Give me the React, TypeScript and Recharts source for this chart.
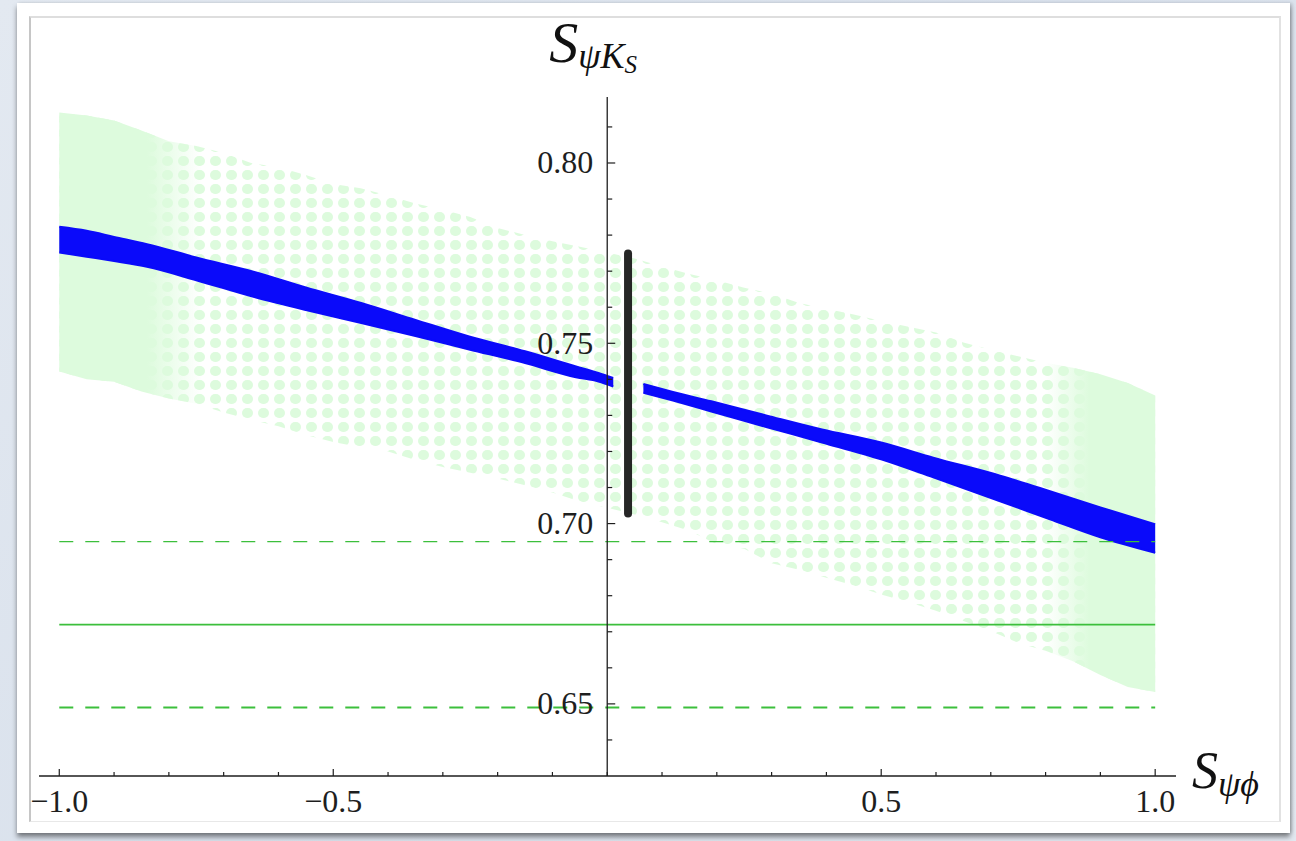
import React from 'react';
import { ComposedChart, Area, Line, XAxis, YAxis, ReferenceLine, ReferenceDot } from 'recharts';

// Light-green scan region (S_psiKS range allowed for each S_psiphi)
const greenX = [-1, -0.95, -0.9, -0.85, -0.8, -0.75, -0.7, -0.65, -0.6, -0.55, -0.5, -0.45, -0.4, -0.35, -0.3, -0.25, -0.2, -0.15, -0.1, -0.05, 0, 0.05, 0.1, 0.15, 0.2, 0.25, 0.3, 0.35, 0.4, 0.45, 0.5, 0.55, 0.6, 0.65, 0.7, 0.75, 0.8, 0.85, 0.9, 0.95, 1];
const greenUpper = [0.814, 0.8132, 0.8118, 0.809, 0.806, 0.8047, 0.8028, 0.8, 0.7988, 0.7967, 0.7942, 0.793, 0.791, 0.7888, 0.787, 0.785, 0.782, 0.78, 0.7783, 0.7768, 0.7752, 0.7735, 0.7713, 0.7692, 0.7675, 0.7654, 0.7638, 0.7612, 0.7596, 0.758, 0.7562, 0.7546, 0.753, 0.7502, 0.7482, 0.7464, 0.7446, 0.7432, 0.7414, 0.739, 0.7355];
const greenLower = [0.7422, 0.74, 0.7393, 0.7366, 0.7347, 0.7332, 0.7308, 0.7288, 0.727, 0.7246, 0.7226, 0.7212, 0.72, 0.7176, 0.7157, 0.7141, 0.7125, 0.7106, 0.7086, 0.7061, 0.7044, 0.7025, 0.7004, 0.698, 0.6943, 0.693, 0.689, 0.6872, 0.685, 0.6828, 0.6803, 0.6782, 0.6758, 0.673, 0.6702, 0.6669, 0.6647, 0.6618, 0.658, 0.6547, 0.6533];

// Blue band (left and right of the measurement bar)
const blueLeftX = [-1, -0.95, -0.9, -0.84, -0.75, -0.644, -0.55, -0.449, -0.35, -0.252, -0.15, -0.057, -0.016, 0.011];
const blueLeftLo = [0.7752, 0.774, 0.7728, 0.7712, 0.7675, 0.7628, 0.7592, 0.7556, 0.752, 0.7483, 0.7445, 0.7406, 0.7394, 0.738];
const blueLeftHi = [0.7823, 0.7812, 0.7795, 0.7775, 0.7738, 0.7698, 0.7655, 0.7612, 0.7565, 0.7519, 0.7478, 0.7436, 0.7418, 0.7404];
const blueRightX = [0.066, 0.12, 0.19, 0.29, 0.392, 0.5, 0.595, 0.717, 0.808, 0.9, 1];
const blueRightLo = [0.7363, 0.7341, 0.7311, 0.7268, 0.7225, 0.7178, 0.7128, 0.7062, 0.7012, 0.6962, 0.6919];
const blueRightHi = [0.7387, 0.7365, 0.7339, 0.73, 0.7261, 0.7225, 0.7183, 0.7133, 0.709, 0.7045, 0.6998];

// Black measurement bar
const barX = [0.038, 0.038];
const barY = [0.7028, 0.7749];

// Horizontal experimental band
const bandX = [-1, 1];
const bandCentral = 0.672;
const bandHigh = 0.695;
const bandLow = 0.649;

// Axes
const X_DOMAIN = [-1.037, 1.038];
const Y_DOMAIN = [0.63, 0.8183];
const xTicks = [-1, -0.9, -0.8, -0.7, -0.6, -0.5, -0.4, -0.3, -0.2, -0.1, 0, 0.1, 0.2, 0.3, 0.4, 0.5, 0.6, 0.7, 0.8, 0.9, 1];
const xTickLabels = ['\u22121.0', '', '', '', '', '\u22120.5', '', '', '', '', '', '', '', '', '', '0.5', '', '', '', '', '1.0'];
const yTicks = [0.64, 0.65, 0.66, 0.67, 0.68, 0.69, 0.7, 0.71, 0.72, 0.73, 0.74, 0.75, 0.76, 0.77, 0.78, 0.79, 0.8, 0.81];
const yTickLabels = ['', '0.65', '', '', '', '', '0.70', '', '', '', '', '0.75', '', '', '', '', '0.80', ''];

const greenData = greenX.map((x, i) => ({ x, lo: greenLower[i], hi: greenUpper[i] }));
const blueLeftData = blueLeftX.map((x, i) => ({ x, lo: blueLeftLo[i], hi: blueLeftHi[i] }));
const blueRightData = blueRightX.map((x, i) => ({ x, lo: blueRightLo[i], hi: blueRightHi[i] }));
const barData = barX.map((x, i) => ({ x, y: barY[i] }));

const FONT = '"Liberation Serif", "Times New Roman", serif';
const INK = '#1e1e1e';
const GREEN = '#ddfbdd';
const LINE_GREEN = '#3cbf3c';
const BLUE = '#0a0afa';

const range = (d: any) => [d.lo, d.hi];

const XTick = (props: any) => {
  const { x, y, index } = props;
  const label = xTickLabels[index] || '';
  const major = label !== '';
  return (
    <g>
      <line x1={x} x2={x} y1={y} y2={y - (major ? 7 : 4)} stroke={INK} strokeWidth={1.2} />
      {major && (
        <text x={x} y={y + 36} textAnchor="middle" fontFamily={FONT} fontSize={32} fill={INK}>
          {label}
        </text>
      )}
    </g>
  );
};

const makeYTick = (label: string) => (p: any) => (
  <g>
    <line x1={p.cx} x2={p.cx + (label ? 8 : 5)} y1={p.cy} y2={p.cy} stroke={INK} strokeWidth={1.2} />
    {label && (
      <text x={p.cx - 14} y={p.cy + 10.5} textAnchor="end" fontFamily={FONT} fontSize={32} fill={INK}>
        {label}
      </text>
    )}
  </g>
);

const YTitle = (p: any) => (
  <text x={p.cx - 58} y={p.cy - 35} fontFamily={FONT} fontStyle="italic" fill="#111">
    <tspan fontSize={58}>S</tspan>
    <tspan fontSize={36} dy={6}>ψK</tspan>
    <tspan fontSize={25} dy={5}>S</tspan>
  </text>
);

const XTitle = (p: any) => (
  <text x={p.cx + 16} y={p.cy + 12} fontFamily={FONT} fontStyle="italic" fill="#111">
    <tspan fontSize={52}>S</tspan>
    <tspan fontSize={36} dy={8}>ψϕ</tspan>
  </text>
);

export default function App() {
  return (
    <div style={{ position: 'absolute', left: 0, top: 0, width: 1296, height: 841, background: 'linear-gradient(135deg, #e3e9f1 0%, #d9e1ec 50%, #e2e8f0 100%)', overflow: 'hidden' }}>
      <div style={{ position: 'absolute', left: 17, top: 3, width: 1273, height: 830, background: '#fff', boxShadow: '0 4px 5px rgba(0,0,0,0.45), 2px 0 3px rgba(0,0,0,0.15)' }} />
      <div style={{ position: 'absolute', left: 29, top: 16, width: 1248, height: 803, borderLeft: '2px solid #c6c6c6', borderTop: '2px solid #dedede', borderRight: '2px solid #e2e2e2', borderBottom: '1px solid #e8e8e8' }} />
      <div style={{ position: 'absolute', left: 0, top: 0 }}>
        <ComposedChart width={1296} height={841} margin={{ top: 97, left: 39, right: 120, bottom: 25 }}>
          <defs>
            <pattern id="gdots" width="16" height="14" patternUnits="userSpaceOnUse">
              <rect x="2" y="2" width="11" height="10" rx="5" fill={GREEN} />
            </pattern>
            <linearGradient id="gends" x1="0" y1="0" x2="1" y2="0">
              <stop offset="0" stopColor={GREEN} stopOpacity={1} />
              <stop offset="0.08" stopColor={GREEN} stopOpacity={1} />
              <stop offset="0.13" stopColor={GREEN} stopOpacity={0} />
              <stop offset="0.9" stopColor={GREEN} stopOpacity={0} />
              <stop offset="0.94" stopColor={GREEN} stopOpacity={1} />
              <stop offset="1" stopColor={GREEN} stopOpacity={1} />
            </linearGradient>
          </defs>
          <XAxis
            dataKey="x"
            type="number"
            domain={X_DOMAIN}
            allowDataOverflow
            ticks={xTicks}
            interval={0}
            tick={XTick}
            tickLine={false}
            tickSize={0}
            tickMargin={0}
            height={40}
            axisLine={{ stroke: INK, strokeWidth: 1.3 }}
          />
          <YAxis type="number" domain={Y_DOMAIN} allowDataOverflow hide width={0} />
          <Area data={greenData} dataKey={range} type="linear" stroke="none" fill="url(#gdots)" fillOpacity={1} isAnimationActive={false} dot={false} activeDot={false} />
          <Area data={greenData} dataKey={range} type="linear" stroke="none" fill="url(#gends)" fillOpacity={1} isAnimationActive={false} dot={false} activeDot={false} />
          <Area data={blueLeftData} dataKey={range} type="monotone" stroke={BLUE} strokeWidth={2} fill={BLUE} fillOpacity={1} isAnimationActive={false} dot={false} activeDot={false} />
          <Area data={blueRightData} dataKey={range} type="monotone" stroke={BLUE} strokeWidth={2} fill={BLUE} fillOpacity={1} isAnimationActive={false} dot={false} activeDot={false} />
          <ReferenceLine segment={[{ x: bandX[0], y: bandHigh }, { x: bandX[1], y: bandHigh }]} stroke={LINE_GREEN} strokeWidth={1.3} strokeDasharray="14 12" />
          <ReferenceLine segment={[{ x: bandX[0], y: bandCentral }, { x: bandX[1], y: bandCentral }]} stroke={LINE_GREEN} strokeWidth={1.8} />
          <ReferenceLine segment={[{ x: bandX[0], y: bandLow }, { x: bandX[1], y: bandLow }]} stroke={LINE_GREEN} strokeWidth={2.2} strokeDasharray="14 12" />
          <Line data={barData} dataKey="y" type="linear" stroke="#262626" strokeWidth={8} strokeLinecap="round" dot={false} activeDot={false} isAnimationActive={false} />
          <ReferenceLine x={0} stroke={INK} strokeWidth={1.3} />
          {yTicks.map((v, i) => (
            <ReferenceDot key={v} x={0} y={v} r={0} ifOverflow="visible" shape={makeYTick(yTickLabels[i])} />
          ))}
          <ReferenceDot x={0} y={Y_DOMAIN[1]} r={0} ifOverflow="visible" shape={YTitle} />
          <ReferenceDot x={X_DOMAIN[1]} y={Y_DOMAIN[0]} r={0} ifOverflow="visible" shape={XTitle} />
        </ComposedChart>
      </div>
    </div>
  );
}
